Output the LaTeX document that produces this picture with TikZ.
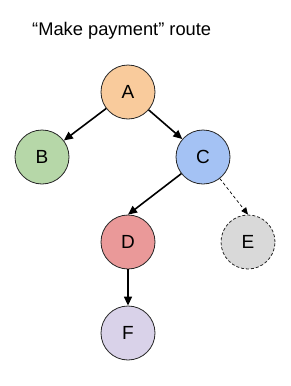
\documentclass[tikz,border=0pt]{standalone}
\usepackage{fontspec}
\setmainfont{Liberation Sans}
\usetikzlibrary{arrows.meta,positioning}
\definecolor{nodeA}{HTML}{F9CB9C}
\definecolor{nodeB}{HTML}{B6D7A8}
\definecolor{nodeC}{HTML}{A4C2F4}
\definecolor{nodeD}{HTML}{EA9999}
\definecolor{nodeE}{HTML}{D9D9D9}
\definecolor{nodeF}{HTML}{D9D2E9}
\tikzset{
myStep/.style={
	circle,draw=black!85,line width=0.8pt,
	inner sep=0pt,minimum size=54pt,
	font=\fontsize{19}{21}\selectfont
}
, myStepOpt/.style={myStep,dashed,dash pattern=on 3pt off 2pt}
% link
, myRoute/.style={-{Triangle[length=9pt,width=8pt]},line width=1.6pt}
, myRouteOpt/.style={-{Triangle[length=7pt,width=6pt]},line width=0.7pt,dash pattern=on 3pt off 2.5pt}
}
\begin{document}
\begin{tikzpicture}[x=1pt,y=-1pt]
	\useasboundingbox (0,0) rectangle (290,386);
	% title
	\node[anchor=base west,inner sep=0pt,font=\fontsize{18.3}{20}\selectfont] (Title) at (32,35) {“Make payment” route};
	% nodes
	\node[myStep,fill=nodeA] (A) at (128,92)  {A};
	\node[myStep,fill=nodeB] (B) at (42,157)  {B};
	\node[myStep,fill=nodeC] (C) at (203,157) {C};
	\node[myStep,fill=nodeD] (D) at (128,242) {D};
	\node[myStepOpt,fill=nodeE] (E) at (248,242) {E};
	\node[myStep,fill=nodeF] (F) at (128,333) {F};
	% links
	\draw [myRoute] (A) -- (B);
	\draw [myRoute] (A) -- (C);
	\draw [myRoute] (C) -- (D.north);
	\draw [myRouteOpt] (C) -- (E.north);
	\draw [myRoute] (D) -- (F);
\end{tikzpicture}
\end{document}
